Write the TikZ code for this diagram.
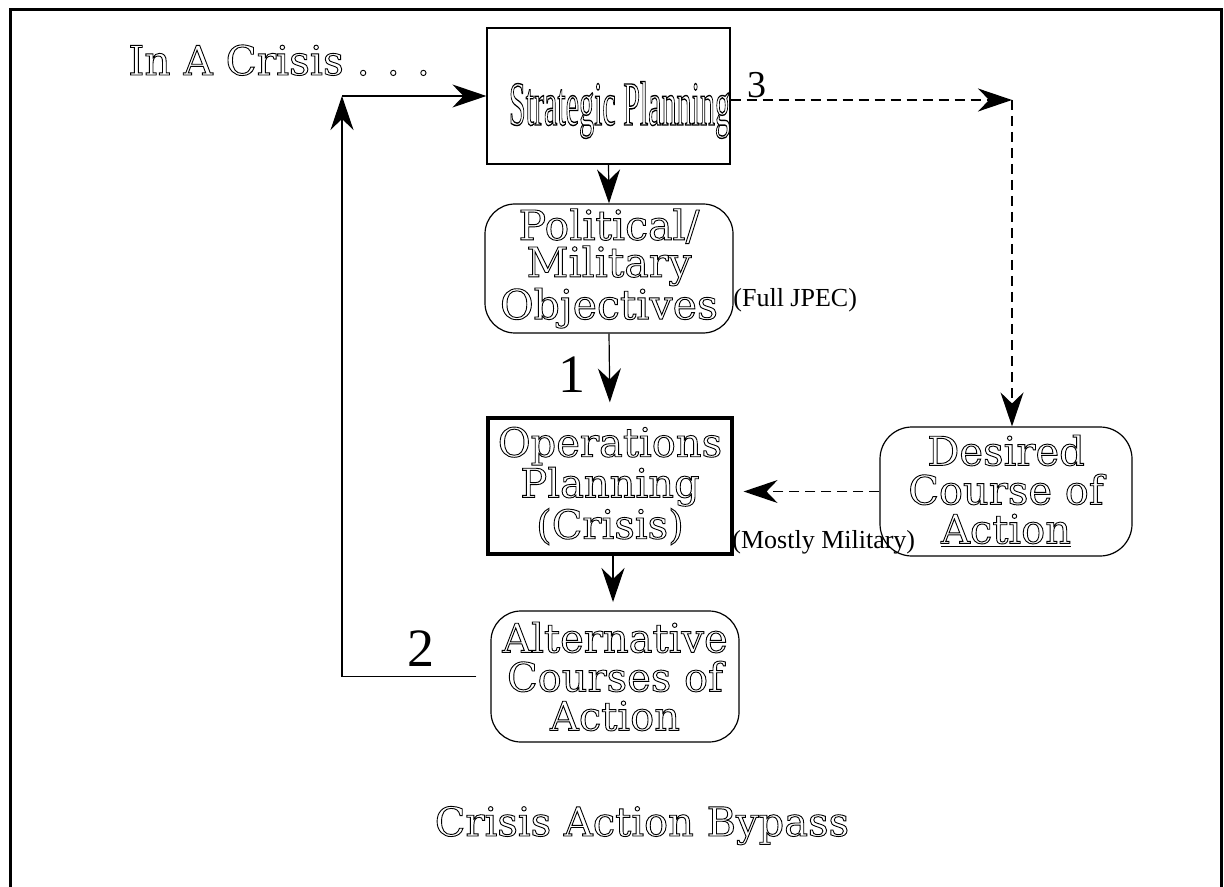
\documentclass[tikz,border=0pt]{standalone}
\usepackage{fontspec}
\setmainfont{Liberation Serif}
\newfontfamily\hollowfont{DejaVu Serif}
\usepackage{graphicx}
\usetikzlibrary{arrows.meta}

% outlined letters: stroke the glyphs instead of filling them
\newcommand{\hollow}[2][0.45]{\special{pdf:literal direct 1 Tr #1 w}#2\special{pdf:literal direct 0 Tr}}

\tikzset{
  plainbox/.style={draw, line width=0.6pt, inner sep=0pt},
  roundbox/.style={draw, line width=0.6pt, rounded corners=15pt, inner sep=0pt,
    align=center, font=\hollowfont\fontsize{20}{19.5}\selectfont},
  arr/.style={line width=0.6pt, -{Stealth[length=17pt,width=11.5pt]}},
  dash line/.style={dash pattern=on 5pt off 3pt},
  note/.style={inner sep=0pt, font=\fontsize{13}{13}\selectfont},
}

\begin{document}
\begin{tikzpicture}[x=0.5pt,y=-0.5pt]
\useasboundingbox (0,0) rectangle (1224,887);
\draw[line width=1.5pt] (10,900) -- (10,10) -- (1221,10) -- (1221,900);

\node[anchor=base west, inner sep=0pt, font=\hollowfont\fontsize{20.3}{20}\selectfont] (crisis) at (128,75) {\hollow{In A Crisis . . .}};

\node[plainbox, minimum width=120.5pt, minimum height=68pt, text height=29pt, text depth=0pt] (strat) at (608.5,96)
  {\hspace*{11pt}\resizebox*{110.5pt}{28.5pt}{\hollow[0.22]{Strategic Planning}}};

\node[roundbox, minimum width=124pt, minimum height=64.5pt, font=\hollowfont\fontsize{20.5}{18.5}\selectfont] (pol) at (609,268.5)
  {\hollow{Political/}\\\hollow{Military}\\\hollow{Objectives}};
\node[note, anchor=west] (jpec) at (733,300) {(Full JPEC)};

\node[plainbox, line width=1.6pt, minimum width=122pt, minimum height=68pt, align=center,
  font=\hollowfont\fontsize{20}{19.25}\selectfont] (ops) at (610,486)
  {\hollow{Operations}\\\hollow{Planning}\\\hollow{(Crisis)}};
\node[note, anchor=west] (mil) at (732,542) {(Mostly Military)};

\node[roundbox, rounded corners=16pt, minimum width=126pt, minimum height=64.5pt] (des) at (1006,491.5)
  {\hollow{Desired}\\\hollow{Course of}\\\underline{\hollow{Action}}};

\node[roundbox, minimum width=124pt, minimum height=65.5pt] (alt) at (615,676.5)
  {\hollow{Alternative}\\\hollow{Courses of}\\\hollow{Action}};

\node[font=\fontsize{27}{27}\selectfont] (one) at (572,375) {1};
\node[font=\fontsize{27}{27}\selectfont] (two) at (421,649) {2};
\node[font=\fontsize{19}{19}\selectfont] (three) at (757,85) {3};

\node[anchor=base, inner sep=0pt, font=\hollowfont\fontsize{20}{20}\selectfont] (title) at (642,836) {\hollow{Crisis Action Bypass}};

\coordinate (turn) at (342,96);
\coordinate (bend) at (1012,100);

\draw[arr] (strat.south) -- (pol.north);
\draw[arr, shorten >=7pt] (pol.south) -- (ops.north);
\draw[arr, shorten >=4.5pt] (613,554) -- (613,611);
\draw[arr, shorten <=7pt] (alt.west) -| (turn);
\draw[arr] (turn) -- (strat.west);
\draw[arr, dash line] (strat.east |- bend) -- (bend);
\draw[arr, dash line] (bend) -- (bend |- des.north);
\draw[arr, dash line, shorten >=5pt] (des.west) -- (des.west -| ops.east);
\end{tikzpicture}
\end{document}
